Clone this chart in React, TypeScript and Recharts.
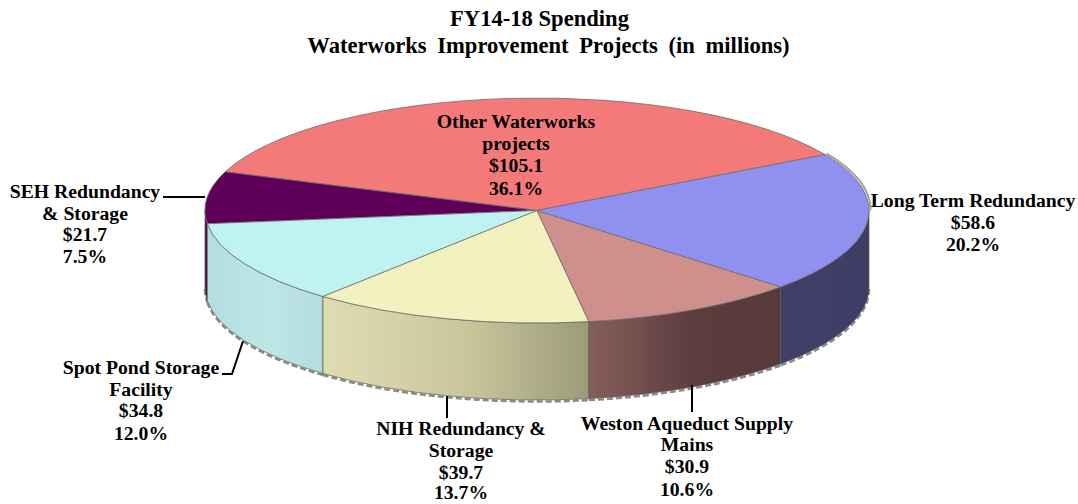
import React from "react";
import { PieChart, Pie } from "recharts";

const names = [
  "Other Waterworks projects",
  "SEH Redundancy & Storage",
  "Spot Pond Storage Facility",
  "NIH Redundancy & Storage",
  "Weston Aqueduct Supply Mains",
  "Long Term Redundancy",
];
const values = [105.1, 21.7, 34.8, 39.7, 30.9, 58.6];
const percents = ["36.1%", "7.5%", "12.0%", "13.7%", "10.6%", "20.2%"];
const topColors = ["#f47a7a", "#5f0058", "#bff3f1", "#f3f1c0", "#cf8f8a", "#9090f0"];
const wallFrom = ["#a85555", "#4a0045", "#b2dee0", "#e0dcb2", "#865e5c", "#3e3e68"];
const wallMid = ["#a85555", "#4a0045", "#bfe6e6", "#c8c59c", "#5c3d3d", "#3e3e68"];
const wallTo = ["#a85555", "#4a0045", "#b3dcdd", "#9c9b78", "#573a3a", "#3c3c64"];

const nameLines = [
  ["Other Waterworks", "projects"],
  ["SEH Redundancy", "& Storage"],
  ["Spot Pond Storage", "Facility"],
  ["NIH Redundancy &", "Storage"],
  ["Weston Aqueduct Supply", "Mains"],
  ["Long Term Redundancy"],
];

// label placement, not data: centre x and the baseline of each line
const labelX = [516, 85, 141, 461, 687, 973];
const labelY = [
  [128, 150, 172, 195],
  [198, 220, 241, 263],
  [374, 396, 417, 440],
  [435, 457, 479, 499],
  [430, 451, 473, 496],
  [207, 229, 251],
];
const leaders = [
  "",
  "M163 197H205",
  "M222 374H232L243 341",
  "M447 396V418",
  "M692 385V412",
  "",
];

const rows = names.map((name, i) => ({
  name,
  value: values[i],
  fill: topColors[i],
  wallId: `wall-${i}`,
}));

const FLAT = 112.5 / 332;
const DEPTH = 77;
const RAD = Math.PI / 180;

const PieSlice3D = (props: any) => {
  const { cx, cy, outerRadius: r, startAngle, endAngle, fill, wallId } = props;
  const ry = r * FLAT;
  const pt = (a: number, dy = 0, dx = 0) =>
    `${cx + dx + r * Math.cos(a * RAD)} ${cy - ry * Math.sin(a * RAD) + dy}`;
  const large = endAngle - startAngle > 180 ? 1 : 0;
  const top = `M${cx} ${cy}L${pt(startAngle)}A${r} ${ry} 0 ${large} 0 ${pt(endAngle)}Z`;

  // the wall only shows on the front half of the rim
  const a0 = Math.max(startAngle, 180);
  const a1 = Math.min(endAngle, 360);
  const hasWall = a1 > a0;
  const wall = hasWall
    ? `M${pt(a0)}A${r} ${ry} 0 0 0 ${pt(a1)}L${pt(a1, DEPTH)}A${r} ${ry} 0 0 1 ${pt(a0, DEPTH)}Z`
    : "";
  const rim = hasWall ? `M${pt(a0, DEPTH + 1.5)}A${r} ${ry} 0 0 0 ${pt(a1, DEPTH + 1.5)}` : "";
  // soft shadow on the upper right edge of the slice that wraps past 0 degrees
  const glint = endAngle > 360 ? `M${pt(360, 0, 1.5)}A${r} ${ry} 0 0 0 ${pt(endAngle, -1, 1.5)}` : "";

  return (
    <g>
      {hasWall && (
        <path d={rim} fill="none" stroke="#8a8a8a" strokeWidth={2.5} strokeDasharray="6 3" />
      )}
      {glint && <path d={glint} fill="none" stroke="#a0a0a0" strokeWidth={2} />}
      {hasWall && <path d={wall} fill={`url(#${wallId})`} stroke="#5a5a50" strokeWidth={0.7} />}
      <path d={top} fill={fill} stroke="#6e6e6e" strokeWidth={0.8} strokeLinejoin="round" />
    </g>
  );
};

const SliceLabel = ({ index }: any) => {
  const lines = [...nameLines[index], `$${values[index].toFixed(1)}`, percents[index]];
  return (
    <g>
      {leaders[index] && <path d={leaders[index]} fill="none" stroke="#000" strokeWidth={2} />}
      {lines.map((line, i) => (
        <text
          key={i}
          x={labelX[index]}
          y={labelY[index][i]}
          textAnchor="middle"
          fill="#000"
          style={{ fontFamily: "'Liberation Serif'", fontWeight: 700, fontSize: 19.7 }}
        >
          {line}
        </text>
      ))}
    </g>
  );
};

const titleStyle = { fontFamily: "'Liberation Serif'", fontWeight: 700, fontSize: 22.6 };

export default function App() {
  return (
    <div style={{ position: "absolute", left: 0, top: 0, width: 1078, height: 504, background: "#fff" }}>
      <PieChart width={1078} height={504} margin={{ top: 0, right: 0, bottom: 0, left: 0 }}>
        <defs>
          {rows.map((row, i) => (
            <linearGradient key={row.wallId} id={row.wallId} x1="0" y1="0" x2="1" y2="0">
              <stop offset="0%" stopColor={wallFrom[i]} />
              <stop offset="55%" stopColor={wallMid[i]} />
              <stop offset="100%" stopColor={wallTo[i]} />
            </linearGradient>
          ))}
        </defs>
        <text x={539.5} y={26} textAnchor="middle" fill="#000" style={titleStyle}>
          FY14-18 Spending
        </text>
        <text x={548.5} y={53} textAnchor="middle" fill="#000" style={{ ...titleStyle, wordSpacing: 5 }}>
          Waterworks Improvement Projects (in millions)
        </text>
        <Pie
          data={rows}
          dataKey="value"
          nameKey="name"
          cx={537}
          cy={210.5}
          innerRadius={0}
          outerRadius={332}
          startAngle={29.8}
          endAngle={389.8}
          paddingAngle={0}
          shape={PieSlice3D}
          label={SliceLabel}
          labelLine={false}
          isAnimationActive={false}
        />
      </PieChart>
    </div>
  );
}
